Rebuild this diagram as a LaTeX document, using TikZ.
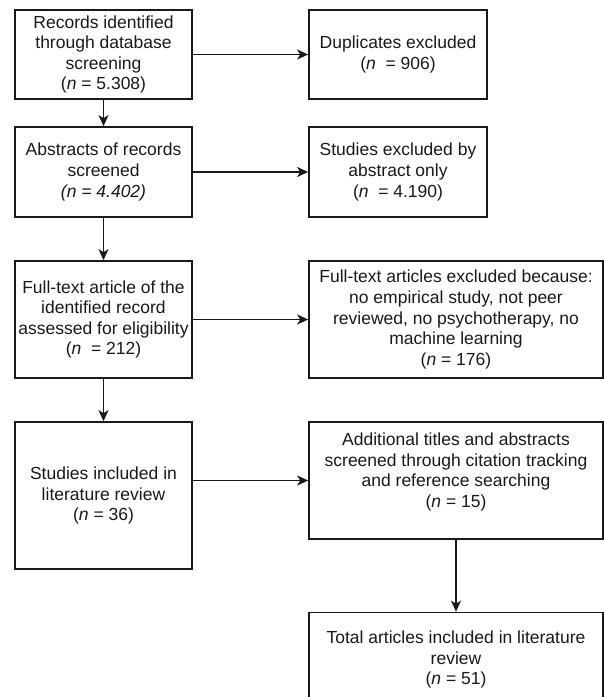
\documentclass[tikz,border=0pt]{standalone}
\usepackage{fontspec}
\setmainfont{Liberation Sans}
\usetikzlibrary{arrows.meta}

\begin{document}
\begin{tikzpicture}[x=1pt,y=-1pt,
        box/.style={draw=black!90, line width=1.7pt, align=center, inner sep=2pt,
            text=black!90, font=\fontsize{17.5}{20.6}\selectfont},
        small/.style={box, minimum width=177pt},
        wide/.style={box, minimum width=294pt},
        arr/.style={-{Stealth[length=11pt,width=10pt,inset=3pt]}, line width=1.6pt, draw=black!90}]
        \useasboundingbox (0,0) rectangle (604,697);
        % left column
        \node[small, minimum height=89pt] (rec) at (103.5,54.5) {Records identified\\through database\\screening\\(\textit{n} = 5.308)};
        \node[small, minimum height=90pt] (abs) at (103.5,172) {Abstracts of records\\screened\\\textit{(n = 4.402)}};
        \node[small, minimum height=117pt] (full) at (103.5,319.5) {Full-text article of the\\identified record\\assessed for eligibility\\(\textit{n} \ = 212)};
        \node[small, minimum height=147pt] (incl) at (103.5,495.5) {Studies included in\\literature review\\(\textit{n} = 36)};
        % right column
        \node[box, minimum width=178pt, minimum height=89pt] (dup) at (398,54.5) {Duplicates excluded\\(\textit{n} \ = 906)};
        \node[box, minimum width=178pt, minimum height=90pt] (absx) at (398,172) {Studies excluded by\\abstract only\\(\textit{n} \ = 4.190)};
        \node[wide, minimum height=117pt] (fullx) at (456,319.5) {Full-text articles excluded because:\\no empirical study, not peer\\reviewed, no psychotherapy, no\\machine learning\\(\textit{n} = 176)};
        \node[wide, minimum height=117pt] (addl) at (456,480.5) {Additional titles and abstracts\\screened through citation tracking\\and reference searching\\(\textit{n} = 15)\\~};
        \node[wide, minimum height=94pt] (total) at (456,659.5) {Total articles included in literature\\review\\(\textit{n} = 51)};
        % arrows
        \draw[arr] (rec) -- (abs);
        \draw[arr] (abs) -- (full);
        \draw[arr] (full) -- (incl);
        \draw[arr] (rec) -- (dup);
        \draw[arr] (abs) -- (absx);
        \draw[arr] (full) -- (fullx);
        \draw[arr] (incl.east |- addl.west) -- (addl.west);
        \draw[arr] (addl) -- (total);
    \end{tikzpicture}
\end{document}
